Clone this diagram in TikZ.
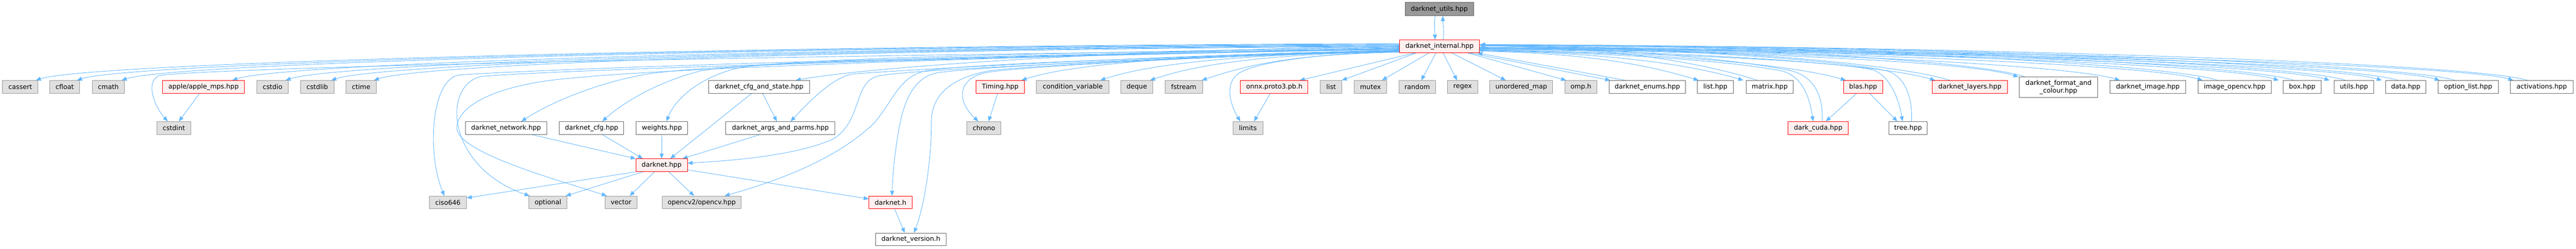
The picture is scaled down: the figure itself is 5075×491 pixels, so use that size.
\documentclass[tikz,border=0pt]{standalone}
\usepackage{fontspec}
\setmainfont{DejaVu Sans}
\usetikzlibrary{arrows.meta}
\pgfdeclarelayer{bg}
\pgfsetlayers{bg,main}
\definecolor{edgecol}{HTML}{63B8FF}
\definecolor{gfill}{HTML}{E0E0E0}
\definecolor{gdraw}{HTML}{999999}
\definecolor{wdraw}{HTML}{666666}
\definecolor{rfill}{HTML}{FFF0F0}
\definecolor{rootfill}{HTML}{999999}
\newcommand{\edgeL}[4]{\draw[e] ([yshift=#1pt]DI.west) .. controls +(#2,4) and +(100,-34) .. ([xshift=#4pt]#3.north east);}
\newcommand{\edgeR}[4]{\draw[e] ([yshift=#1pt]DI.east) .. controls +(#2,4) and +(-100,-30) .. ([xshift=#4pt]#3.north west);}
\newcommand{\edgeB}[4]{\draw[e] ([xshift=#2pt]#1.north west) .. controls +(-100,-32) and +(#3,3) .. ([yshift=#4pt]DI.east);}
\begin{document}
\begin{tikzpicture}[x=1pt,y=-1pt,
 base/.style={rectangle, inner sep=0pt, minimum height=25pt, line width=1pt, font=\fontsize{12.9}{15}\selectfont, text=black},
 gn/.style={base, fill=gfill, draw=gdraw},
 wn/.style={base, fill=white, draw=wdraw},
 rn/.style={base, fill=rfill, draw=red},
 root/.style={base, fill=rootfill, draw=wdraw},
 e/.style={draw=edgecol, line width=0.9pt, -{Triangle[length=10pt,width=8pt]}}]
\useasboundingbox (0,0) rectangle (5075,491);
% row 1
\node[root, minimum width=135pt, minimum height=26pt] (dutils) at (2835.5,18) {darknet\_utils.hpp};
\node[rn, minimum width=158pt] (DI) at (2836,91.5) {darknet\_internal.hpp};
% row 2
\node[gn, minimum width=70pt] (cassert) at (40,171.5) {cassert};
\node[gn, minimum width=59pt] (cfloat) at (127.5,171.5) {cfloat};
\node[gn, minimum width=63pt] (cmath) at (213.5,171.5) {cmath};
\node[rn, minimum width=162pt] (apple) at (401,171.5) {apple/apple\_mps.hpp};
\node[gn, minimum width=62pt] (cstdio) at (537,171.5) {cstdio};
\node[gn, minimum width=66pt] (cstdlib) at (625,171.5) {cstdlib};
\node[gn, minimum width=59pt] (ctime) at (711.5,171.5) {ctime};
\node[wn, minimum width=199pt] (cfgstate) at (1495.5,171.5) {darknet\_cfg\_and\_state.hpp};
\node[rn, minimum width=95pt] (timing) at (1970.5,171.5) {Timing.hpp};
\node[gn, minimum width=143pt] (condvar) at (2113.5,171.5) {condition\_variable};
\node[gn, minimum width=63pt] (deque) at (2239.5,171.5) {deque};
\node[gn, minimum width=74pt] (fstream) at (2332,171.5) {fstream};
\node[rn, minimum width=133pt] (onnx) at (2510.5,171.5) {onnx.proto3.pb.h};
\node[gn, minimum width=43pt] (list) at (2622.5,171.5) {list};
\node[gn, minimum width=64pt] (mutex) at (2700,171.5) {mutex};
\node[gn, minimum width=72pt] (random) at (2792,171.5) {random};
\node[gn, minimum width=59pt] (regex) at (2881.5,171.5) {regex};
\node[gn, minimum width=124pt] (umap) at (2997,171.5) {unordered\_map};
\node[gn, minimum width=63pt] (omp) at (3114.5,171.5) {omp.h};
\node[wn, minimum width=151pt] (enums) at (3245.5,171.5) {darknet\_enums.hpp};
\node[wn, minimum width=71pt] (listhpp) at (3379.5,171.5) {list.hpp};
\node[wn, minimum width=93pt] (matrix) at (3486.5,171.5) {matrix.hpp};
\node[rn, minimum width=77pt] (blas) at (3670.5,171.5) {blas.hpp};
\node[rn, minimum width=148pt] (layers) at (3881,171.5) {darknet\_layers.hpp};
\node[wn, minimum width=155pt, minimum height=40pt, align=center] (fmtcol) at (4055.5,172) {darknet\_format\_and\\\_colour.hpp};
\node[wn, minimum width=149pt] (image) at (4231.5,171.5) {darknet\_image.hpp};
\node[wn, minimum width=145pt] (imgcv) at (4402.5,171.5) {image\_opencv.hpp};
\node[wn, minimum width=75pt] (box) at (4535.5,171.5) {box.hpp};
\node[wn, minimum width=79pt] (utils) at (4637.5,171.5) {utils.hpp};
\node[wn, minimum width=79pt] (data) at (4739.5,171.5) {data.hpp};
\node[wn, minimum width=119pt] (optlist) at (4862.5,171.5) {option\_list.hpp};
\node[wn, minimum width=123pt] (activ) at (5007.5,171.5) {activations.hpp};
% row 3
\node[gn, minimum width=67pt] (cstdint) at (342.5,252.5) {cstdint};
\node[wn, minimum width=160pt] (network) at (997,252.5) {darknet\_network.hpp};
\node[wn, minimum width=127pt] (cfg) at (1165.5,252.5) {darknet\_cfg.hpp};
\node[wn, minimum width=102pt] (weights) at (1304,252.5) {weights.hpp};
\node[wn, minimum width=215pt] (args) at (1537.5,252.5) {darknet\_args\_and\_parms.hpp};
\node[gn, minimum width=67pt] (chrono) at (1938.5,252.5) {chrono};
\node[gn, minimum width=59pt] (limits) at (2458.5,252.5) {limits};
\node[rn, minimum width=118pt] (cuda) at (3582,252.5) {dark\_cuda.hpp};
\node[wn, minimum width=76pt] (tree) at (3759,252.5) {tree.hpp};
% row 4
\node[rn, minimum width=101pt] (dhpp) at (1303.5,326) {darknet.hpp};
% row 5
\node[gn, minimum width=73pt] (ciso) at (882.5,399.5) {ciso646};
\node[gn, minimum width=75pt] (optional) at (1079.5,399.5) {optional};
\node[gn, minimum width=63pt] (vector) at (1223.5,399.5) {vector};
\node[gn, minimum width=155pt] (opencv) at (1382.5,399.5) {opencv2/opencv.hpp};
\node[rn, minimum width=85pt] (dh) at (1754.5,399.5) {darknet.h};
% row 6
\node[wn, minimum width=139pt] (version) at (1794.5,472.5) {darknet\_version.h};

\begin{pgfonlayer}{bg}
\fill[white] (0,0) rectangle (5075,491);
% utils <-> internal
\draw[e] ([xshift=-8pt]dutils.south) .. controls +(-3,15) and +(0,-15) .. ([xshift=-9pt]DI.north);
\draw[e] ([xshift=7pt]DI.north) .. controls +(3,-15) and +(0,15) .. ([xshift=7pt]dutils.south);
% left generic
\edgeL{5.5}{-1344}{cassert}{-5}
\edgeL{4.5}{-1303}{cfloat}{-6}
\edgeL{3.5}{-1259}{cmath}{-6}
\edgeL{2.5}{-1150}{apple}{-25}
\edgeL{1.5}{-1098}{cstdio}{-6}
\edgeL{0.5}{-1053}{cstdlib}{-6}
\edgeL{-0.5}{-1011}{ctime}{-5}
\edgeL{-9.5}{-373}{timing}{-6}
\edgeL{-10.5}{-295}{condvar}{-18}
\edgeL{-10.5}{-246}{deque}{-6}
\edgeL{-11.5}{-197}{fstream}{-2}
\draw[e] ([yshift=-0.5pt]DI.west) .. controls +(-500,4) and +(150,-28) .. ([xshift=-28pt]cfgstate.north east);
% left curvy
\draw[e] ([yshift=-5.5pt]DI.west) .. controls (1500,110) and (480,132) .. (320,148) .. controls (285,152) and (300,205) .. ([xshift=-12pt]cstdint.north);
\draw[e] ([yshift=-6.5pt]DI.west) .. controls (1700,112) and (1000,140) .. (905,148) .. controls (850,155) and (840,300) .. ([xshift=-7pt]ciso.north);
\draw[e] ([yshift=-5.5pt]DI.west) .. controls (1800,115) and (1060,140) .. (947,151) .. controls (870,170) and (880,330) .. ([xshift=-36pt]optional.north);
\draw[e] ([yshift=-4.5pt]DI.west) .. controls (2000,110) and (1300,135) .. (1117,155) .. controls (1000,165) and (905,200) .. (900,250) .. controls (895,300) and (1100,355) .. ([xshift=-28pt]vector.north);
\draw[e] ([yshift=-3.5pt]DI.west) .. controls (2000,113) and (1420,122) .. (1270,147) .. controls (1170,165) and (1080,205) .. ([xshift=30pt]network.north);
\draw[e] ([yshift=-2.5pt]DI.west) .. controls (2100,108) and (1500,118) .. (1380,140) .. controls (1300,160) and (1230,200) .. ([xshift=21pt]cfg.north);
\draw[e] ([yshift=-1.5pt]DI.west) .. controls (2200,103) and (1600,112) .. (1460,133) .. controls (1380,150) and (1330,195) .. ([xshift=9pt]weights.north);
\draw[e] ([yshift=-7.5pt]DI.west) .. controls (2300,108) and (1780,138) .. (1680,146) .. controls (1640,152) and (1590,205) .. ([xshift=20pt]args.north);
\draw[e] ([yshift=-7.5pt]DI.west) .. controls (2400,112) and (1800,135) .. (1730,150) .. controls (1680,162) and (1700,240) .. (1640,275) .. controls (1560,310) and (1420,318) .. ([yshift=4pt]dhpp.east);
\draw[e] ([yshift=-8.5pt]DI.west) .. controls (2400,110) and (1900,125) .. (1823,140) .. controls (1770,152) and (1760,200) .. (1720,245) .. controls (1640,320) and (1520,360) .. ([xshift=45pt]opencv.north);
\draw[e] ([yshift=-8.5pt]DI.west) .. controls (2400,108) and (1950,130) .. (1850,143) .. controls (1800,150) and (1780,200) .. (1770,260) .. controls (1763,300) and (1758,350) .. ([xshift=3pt]dh.north);
\draw[e] ([yshift=-9.5pt]DI.west) .. controls (2450,108) and (2010,130) .. (1947,140) .. controls (1870,155) and (1835,190) .. (1835,240) .. controls (1835,320) and (1820,410) .. ([xshift=6pt]version.north);
\draw[e] ([yshift=-9.5pt]DI.west) .. controls (2500,106) and (2050,128) .. (1950,142) .. controls (1890,150) and (1880,195) .. ([xshift=-11pt]chrono.north);
\draw[e] ([yshift=-11.5pt]DI.west) .. controls (2650,102) and (2480,118) .. (2440,145) .. controls (2415,162) and (2420,200) .. ([xshift=-15pt]limits.north);
% bottom of internal
\draw[e] ([xshift=-49pt]DI.south) -- ([xshift=-17pt]onnx.north east);
\draw[e] ([xshift=-46pt]DI.south) -- ([xshift=-1pt]list.north east);
\draw[e] ([xshift=-21pt]DI.south) -- ([xshift=-10pt]mutex.north east);
\draw[e] ([xshift=-7pt]DI.south) -- ([xshift=8pt]random.north);
\draw[e] ([xshift=7pt]DI.south) -- ([xshift=-11pt]regex.north);
\draw[e] ([xshift=24pt]DI.south) -- ([xshift=32pt]umap.north west);
\draw[e] ([xshift=-24pt]DI.south east) -- ([xshift=3pt]omp.north west);
\draw[e] ([xshift=-20pt]DI.south east) -- ([xshift=3pt]enums.north west);
\draw[e] ([xshift=33pt]enums.north west) -- ([xshift=-5pt]DI.south east);
% right generic
\edgeR{-9.5}{216}{listhpp}{3}
\edgeR{-8.5}{260}{matrix}{-5}
\edgeR{-7.5}{361}{blas}{5}
\edgeR{-5.5}{449}{layers}{6}
\edgeR{-5.5}{531}{fmtcol}{-1}
\edgeR{-4.5}{631}{image}{20}
\edgeR{-4.5}{712}{imgcv}{10}
\edgeR{-3.5}{787}{box}{-8}
\edgeR{-3.5}{837}{utils}{-8}
\edgeR{-2.5}{889}{data}{-7}
\edgeR{-2.5}{946}{optlist}{4}
\edgeR{-1.5}{1018}{activ}{6}
\edgeB{matrix}{23}{274}{1.5}
\edgeB{layers}{35}{463}{1.5}
\edgeB{fmtcol}{12}{537}{1.5}
\edgeB{imgcv}{40}{727}{2.5}
\edgeB{box}{22}{802}{2.5}
\edgeB{utils}{24}{853}{2.5}
\edgeB{data}{25}{905}{3.5}
\edgeB{optlist}{34}{961}{3.5}
\edgeB{activ}{34}{1032}{3.5}
% cuda and tree
\draw[e] ([yshift=-7.5pt]DI.east) .. controls (3200,106) and (3410,120) .. (3510,140) .. controls (3550,150) and (3565,190) .. ([xshift=-10pt]cuda.north);
\draw[e] ([xshift=8pt]cuda.north) .. controls (3592,190) and (3575,152) .. (3530,140) .. controls (3430,118) and (3200,96) .. ([yshift=1.5pt]DI.east);
\draw[e] ([yshift=-6.5pt]DI.east) .. controls (3300,106) and (3610,120) .. (3690,138) .. controls (3725,150) and (3742,200) .. ([xshift=-11pt]tree.north);
\draw[e] ([xshift=7pt]tree.north) .. controls (3768,195) and (3755,152) .. (3718,140) .. controls (3620,118) and (3300,96) .. ([yshift=1.5pt]DI.east);
\draw[e] ([xshift=-13pt]blas.south) -- ([xshift=15pt]cuda.north);
\draw[e] ([xshift=13pt]blas.south) -- ([xshift=-21pt]tree.north);
% small links
\draw[e] ([xshift=-8pt]apple.south) -- ([xshift=10pt]cstdint.north);
\draw[e] ([xshift=-5pt]timing.south) -- ([xshift=9pt]chrono.north);
\draw[e] ([xshift=-8pt]onnx.south) -- ([xshift=12pt]limits.north);
% darknet.hpp group
\draw[e] ([xshift=50pt]network.south) -- (dhpp.north west);
\draw[e] ([xshift=21pt]cfg.south) -- ([xshift=14pt]dhpp.north west);
\draw[e] (weights.south) -- (dhpp.north);
\draw[e] ([xshift=-15pt]cfgstate.south) -- ([xshift=17pt]dhpp.north);
\draw[e] ([xshift=7pt]cfgstate.south) -- ([xshift=-7pt]args.north);
\draw[e] ([xshift=-40pt]args.south) -- ([xshift=-10pt]dhpp.north east);
\draw[e] (dhpp.south west) -- ([yshift=9pt]ciso.east);
\draw[e] ([xshift=14pt]dhpp.south west) -- ([xshift=-3pt]optional.north east);
\draw[e] ([xshift=-14pt]dhpp.south) -- ([xshift=17pt]vector.north);
\draw[e] ([xshift=14pt]dhpp.south) -- ([xshift=-15pt]opencv.north);
\draw[e] ([yshift=-9pt]dhpp.east) -- ([yshift=7pt]dh.west);
\draw[e] ([xshift=8pt]dh.south) -- ([xshift=-12pt]version.north);
\end{pgfonlayer}
\end{tikzpicture}
\end{document}
